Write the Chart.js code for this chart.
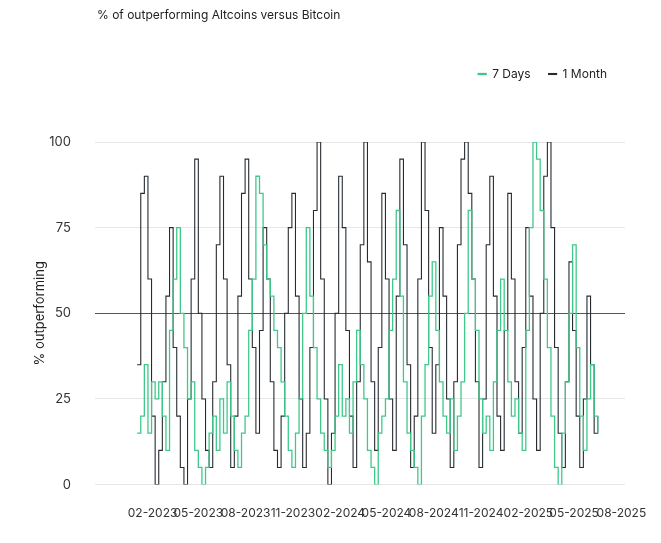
<!DOCTYPE html><html><head><script src="https://cdn.jsdelivr.net/npm/chart.js@4"></script>
<style>body{margin:0;background:#fff}#w{width:661px;height:543px;position:relative}#t{position:absolute;left:97px;top:7px;font:12px Inter,sans-serif;color:#222}</style></head><body><div id="w"><div id="t">% of outperforming Altcoins versus Bitcoin</div><canvas id="c" width="661" height="543"></canvas></div>
<script>
const tickDays=[31,120,212,304,396,486,578,670,762,851,943];
const tickLabels=["02-2023","05-2023","08-2023","11-2023","02-2024","05-2024","08-2024","11-2024","02-2025","05-2025","08-2025"];
const stepDays=7;
const sevenDays=[15,20,35,15,30,25,30,20,10,45,60,75,50,40,25,30,10,5,0,5,15,20,10,25,15,30,20,10,5,15,20,45,60,90,85,70,60,55,45,40,30,20,10,5,15,25,50,75,55,40,25,15,10,5,10,20,35,20,25,15,30,45,35,25,10,5,0,15,20,25,45,60,80,55,30,15,10,5,0,20,35,55,65,45,30,20,15,25,10,20,30,50,80,60,45,25,15,20,10,30,45,60,45,30,20,25,15,10,45,75,100,95,80,60,40,20,5,0,15,30,50,70,40,20,10,25,35,20,15];
const oneMonth=[35,85,90,60,20,0,10,30,55,75,40,20,5,0,25,60,95,50,25,10,5,30,70,90,60,35,5,20,55,85,95,60,40,15,45,75,60,30,10,5,20,50,75,85,55,25,5,15,40,80,100,60,25,0,15,50,90,75,45,20,5,30,70,100,65,30,10,40,85,60,25,10,55,95,70,35,5,20,60,100,80,40,15,35,75,55,25,5,30,70,95,100,85,60,30,5,25,70,90,55,20,10,45,85,60,30,15,40,75,55,25,10,50,90,100,75,40,15,5,30,65,45,20,5,25,55,35,15,20];
const mk=a=>a.map((v,i)=>({x:1+i*stepDays,y:v}));
new Chart(document.getElementById('c'),{type:'line',
data:{datasets:[
{label:'7 Days',data:mk(sevenDays),borderColor:'#3ec98a',backgroundColor:'#3ec98a',borderWidth:1.3,stepped:true,pointRadius:0},
{label:'1 Month',data:mk(oneMonth),borderColor:'#262b30',backgroundColor:'#262b30',borderWidth:1.1,stepped:true,pointRadius:0}]},
options:{responsive:false,animation:false,devicePixelRatio:1,
layout:{padding:{left:28,right:36,top:50,bottom:8}},
plugins:{title:{display:false},
legend:{align:'end',labels:{boxWidth:8,boxHeight:1,color:'#222',font:{family:'Inter',size:12},padding:18}},
tooltip:{enabled:false}},
scales:{x:{type:'linear',min:-81,max:950,afterBuildTicks:s=>{s.ticks=tickDays.map(v=>({value:v}))},
ticks:{autoSkip:false,maxRotation:0,color:'#333',font:{family:'Inter',size:12},padding:14,callback:(v)=>tickLabels[tickDays.indexOf(v)]},
grid:{display:false},border:{display:false}},
y:{min:0,max:100,afterFit:s=>{s.width=67},ticks:{stepSize:25,color:'#333',font:{family:'Inter',size:13},padding:24},
title:{display:true,text:'% outperforming',color:'#222',font:{family:'Inter',size:13}},
grid:{color:c=>c.tick&&c.tick.value===50?'#555':'#e6e6e6',drawTicks:false},border:{display:false}}}},
plugins:[{id:'lg',beforeInit(ch){const f=ch.legend.fit;ch.legend.fit=function(){f.call(this);this.height+=52;};}}]
});
</script></body></html>
